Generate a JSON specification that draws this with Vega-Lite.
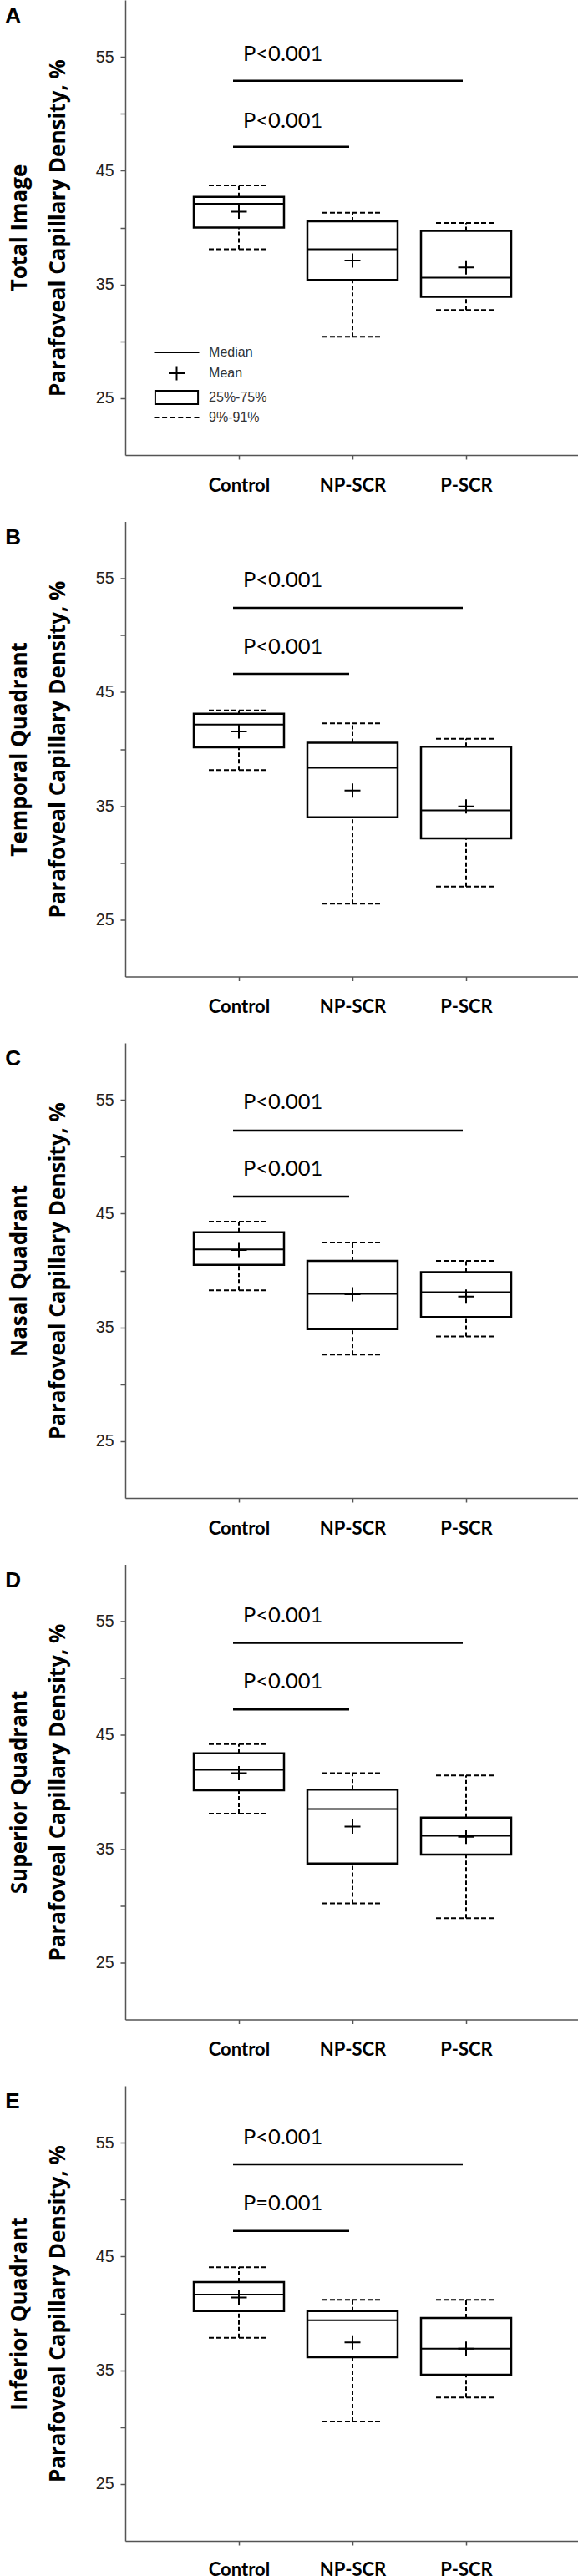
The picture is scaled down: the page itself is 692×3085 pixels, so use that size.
{
  "$schema": "https://vega.github.io/schema/vega-lite/v6.json",
  "padding": {"left": 6, "top": 0, "right": 0, "bottom": 0},
  "background": "white",
  "spacing": 32.5,
  "datasets": {
    "a": [
      {"group": "Control", "p9": 38.1, "q1": 40.0, "median": 42.1, "mean": 41.4, "q3": 42.7, "p91": 43.7},
      {"group": "NP-SCR", "p9": 30.4, "q1": 35.4, "median": 38.1, "mean": 37.1, "q3": 40.55, "p91": 41.3},
      {"group": "P-SCR", "p9": 32.75, "q1": 33.9, "median": 35.6, "mean": 36.5, "q3": 39.7, "p91": 40.4}
    ],
    "b": [
      {"group": "Control", "p9": 38.15, "q1": 40.15, "median": 42.15, "mean": 41.55, "q3": 43.1, "p91": 43.4},
      {"group": "NP-SCR", "p9": 26.4, "q1": 34.0, "median": 38.35, "mean": 36.35, "q3": 40.55, "p91": 42.25},
      {"group": "P-SCR", "p9": 27.9, "q1": 32.15, "median": 34.6, "mean": 34.95, "q3": 40.2, "p91": 40.9}
    ],
    "c": [
      {"group": "Control", "p9": 38.25, "q1": 40.5, "median": 41.85, "mean": 41.8, "q3": 43.35, "p91": 44.3},
      {"group": "NP-SCR", "p9": 32.6, "q1": 34.85, "median": 37.95, "mean": 37.9, "q3": 40.85, "p91": 42.45},
      {"group": "P-SCR", "p9": 34.2, "q1": 35.9, "median": 38.1, "mean": 37.7, "q3": 39.85, "p91": 40.85}
    ],
    "d": [
      {"group": "Control", "p9": 38.1, "q1": 40.15, "median": 41.95, "mean": 41.65, "q3": 43.4, "p91": 44.2},
      {"group": "NP-SCR", "p9": 30.2, "q1": 33.7, "median": 38.5, "mean": 36.95, "q3": 40.2, "p91": 41.65},
      {"group": "P-SCR", "p9": 28.9, "q1": 34.5, "median": 36.15, "mean": 36.05, "q3": 37.75, "p91": 41.45}
    ],
    "e": [
      {"group": "Control", "p9": 37.85, "q1": 40.2, "median": 41.65, "mean": 41.4, "q3": 42.75, "p91": 44.05},
      {"group": "NP-SCR", "p9": 30.5, "q1": 36.15, "median": 39.4, "mean": 37.45, "q3": 40.2, "p91": 41.2},
      {"group": "P-SCR", "p9": 32.6, "q1": 34.6, "median": 36.9, "mean": 36.9, "q3": 39.6, "p91": 41.2}
    ],
    "sa": [
      {"from": "Control", "to": "P-SCR", "y": 52.9, "labelY": 54.65, "label": "P<0.001"},
      {"from": "Control", "to": "NP-SCR", "y": 47.1, "labelY": 48.8, "label": "P<0.001"}
    ],
    "sb": [
      {"from": "Control", "to": "P-SCR", "y": 52.4, "labelY": 54.27, "label": "P<0.001"},
      {"from": "Control", "to": "NP-SCR", "y": 46.6, "labelY": 48.4, "label": "P<0.001"}
    ],
    "sc": [
      {"from": "Control", "to": "P-SCR", "y": 52.3, "labelY": 54.2, "label": "P<0.001"},
      {"from": "Control", "to": "NP-SCR", "y": 46.5, "labelY": 48.3, "label": "P<0.001"}
    ],
    "sd": [
      {"from": "Control", "to": "P-SCR", "y": 53.1, "labelY": 54.9, "label": "P<0.001"},
      {"from": "Control", "to": "NP-SCR", "y": 47.25, "labelY": 49.1, "label": "P<0.001"}
    ],
    "se": [
      {"from": "Control", "to": "P-SCR", "y": 53.1, "labelY": 54.85, "label": "P<0.001"},
      {"from": "Control", "to": "NP-SCR", "y": 47.25, "labelY": 49.1, "label": "P=0.001"}
    ]
  },
  "vconcat": [
    {
      "title": "A",
      "width": 544, "height": 545,
      "data": {"name": "a"},
      "encoding": {"x": {"field": "group", "type": "nominal", "scale": {"type": "point", "padding": 1, "domain": ["Control", "NP-SCR", "P-SCR"]}, "axis": {"title": null, "labelAngle": 0, "tickSize": 5, "labelPadding": 21, "labelFont": "Lato", "labelFontSize": 22, "labelFontWeight": "bold", "labelColor": "black"}}},
      "layer": [
        {"mark": {"type": "rule", "strokeDash": [5, 3], "strokeWidth": 2, "color": "black"},
         "encoding": {"y": {"field": "p9", "type": "quantitative", "scale": {"domain": [20, 60], "nice": false},
           "axis": {"values": [25, 30, 35, 40, 45, 50, 55], "labelExpr": "datum.value % 10 == 5 ? datum.label : ''", "tickSize": 6, "labelPadding": 8, "labelFont": "Liberation Sans", "labelFontSize": 19.5, "labelColor": "#222", "title": ["Total Image", "Parafoveal Capillary Density, %"], "titleFont": "Open Sans", "titleFontSize": 26, "titleFontWeight": "bold", "titleColor": "black", "titleLineHeight": 46, "titlePadding": 32}},
           "y2": {"field": "q1"}}},
        {"mark": {"type": "rule", "strokeDash": [5, 3], "strokeWidth": 2, "color": "black"},
         "encoding": {"y": {"field": "q3", "type": "quantitative", "scale": {"domain": [20, 60], "nice": false}}, "y2": {"field": "p91"}}},
        {"mark": {"type": "rule", "strokeDash": [6, 3], "strokeWidth": 2, "color": "black", "xOffset": -36, "x2Offset": 36},
         "encoding": {"x2": {"field": "group"}, "y": {"field": "p9", "type": "quantitative", "scale": {"domain": [20, 60], "nice": false}}}},
        {"mark": {"type": "rule", "strokeDash": [6, 3], "strokeWidth": 2, "color": "black", "xOffset": -36, "x2Offset": 36},
         "encoding": {"x2": {"field": "group"}, "y": {"field": "p91", "type": "quantitative", "scale": {"domain": [20, 60], "nice": false}}}},
        {"mark": {"type": "bar", "width": 108, "fill": "white", "stroke": "black", "strokeWidth": 2.5},
         "encoding": {"y": {"field": "q1", "type": "quantitative", "scale": {"domain": [20, 60], "nice": false}}, "y2": {"field": "q3"}}},
        {"mark": {"type": "rule", "strokeWidth": 2, "color": "black", "xOffset": -54, "x2Offset": 54},
         "encoding": {"x2": {"field": "group"}, "y": {"field": "median", "type": "quantitative", "scale": {"domain": [20, 60], "nice": false}}}},
        {"mark": {"type": "point", "filled": false, "size": 16, "stroke": "black", "color": "black", "strokeWidth": 2, "opacity": 1},
         "encoding": {"y": {"field": "mean", "type": "quantitative", "scale": {"domain": [20, 60], "nice": false}},
           "shape": {"datum": "Mean", "type": "nominal",
             "scale": {"domain": ["Median", "Mean", "25%-75%", "9%-91%"], "range": ["M-13.5,0H13.5", "M-4.75,0H4.75M0,-4.25V4.25", "M-12.8,-4H12.8V4H-12.8Z", "M-13.5,0H-10.5M-8.7,0H-5.7M-3.9,0H-0.9M0.9,0H3.9M5.7,0H8.7M10.5,0H13.5"]},
             "legend": {"title": null, "orient": "bottom-left", "offset": 37, "padding": 0, "rowPadding": 4, "symbolSize": 16, "symbolStrokeWidth": 2, "symbolStrokeColor": "black", "symbolFillColor": "white", "symbolOpacity": 1, "symbolOffset": 16.5, "labelOffset": 30.6, "labelFont": "Liberation Sans", "labelFontSize": 16, "labelColor": "#333"}}}},
        {"data": {"name": "sa"}, "mark": {"type": "rule", "strokeWidth": 2.5, "color": "black", "xOffset": -7, "x2Offset": -4},
         "encoding": {"x": {"field": "from", "type": "nominal", "scale": {"type": "point", "padding": 1, "domain": ["Control", "NP-SCR", "P-SCR"]}}, "x2": {"field": "to"}, "y": {"field": "y", "type": "quantitative", "scale": {"domain": [20, 60], "nice": false}}}},
        {"data": {"name": "sa"}, "mark": {"type": "text", "align": "left", "baseline": "alphabetic", "dx": 5, "font": "Lato", "fontSize": 25.5, "color": "black"},
         "encoding": {"x": {"field": "from", "type": "nominal", "scale": {"type": "point", "padding": 1, "domain": ["Control", "NP-SCR", "P-SCR"]}}, "y": {"field": "labelY", "type": "quantitative", "scale": {"domain": [20, 60], "nice": false}}, "text": {"field": "label"}}}
      ]
    },
    {
      "title": "B",
      "width": 544, "height": 545,
      "data": {"name": "b"},
      "encoding": {"x": {"field": "group", "type": "nominal", "scale": {"type": "point", "padding": 1, "domain": ["Control", "NP-SCR", "P-SCR"]}, "axis": {"title": null, "labelAngle": 0, "tickSize": 5, "labelPadding": 21, "labelFont": "Lato", "labelFontSize": 22, "labelFontWeight": "bold", "labelColor": "black"}}},
      "layer": [
        {"mark": {"type": "rule", "strokeDash": [5, 3], "strokeWidth": 2, "color": "black"},
         "encoding": {"y": {"field": "p9", "type": "quantitative", "scale": {"domain": [20, 60], "nice": false},
           "axis": {"values": [25, 30, 35, 40, 45, 50, 55], "labelExpr": "datum.value % 10 == 5 ? datum.label : ''", "tickSize": 6, "labelPadding": 8, "labelFont": "Liberation Sans", "labelFontSize": 19.5, "labelColor": "#222", "title": ["Temporal Quadrant", "Parafoveal Capillary Density, %"], "titleFont": "Open Sans", "titleFontSize": 26, "titleFontWeight": "bold", "titleColor": "black", "titleLineHeight": 46, "titlePadding": 32}},
           "y2": {"field": "q1"}}},
        {"mark": {"type": "rule", "strokeDash": [5, 3], "strokeWidth": 2, "color": "black"},
         "encoding": {"y": {"field": "q3", "type": "quantitative", "scale": {"domain": [20, 60], "nice": false}}, "y2": {"field": "p91"}}},
        {"mark": {"type": "rule", "strokeDash": [6, 3], "strokeWidth": 2, "color": "black", "xOffset": -36, "x2Offset": 36},
         "encoding": {"x2": {"field": "group"}, "y": {"field": "p9", "type": "quantitative", "scale": {"domain": [20, 60], "nice": false}}}},
        {"mark": {"type": "rule", "strokeDash": [6, 3], "strokeWidth": 2, "color": "black", "xOffset": -36, "x2Offset": 36},
         "encoding": {"x2": {"field": "group"}, "y": {"field": "p91", "type": "quantitative", "scale": {"domain": [20, 60], "nice": false}}}},
        {"mark": {"type": "bar", "width": 108, "fill": "white", "stroke": "black", "strokeWidth": 2.5},
         "encoding": {"y": {"field": "q1", "type": "quantitative", "scale": {"domain": [20, 60], "nice": false}}, "y2": {"field": "q3"}}},
        {"mark": {"type": "rule", "strokeWidth": 2, "color": "black", "xOffset": -54, "x2Offset": 54},
         "encoding": {"x2": {"field": "group"}, "y": {"field": "median", "type": "quantitative", "scale": {"domain": [20, 60], "nice": false}}}},
        {"mark": {"type": "point", "filled": false, "size": 16, "shape": "M-4.75,0H4.75M0,-4.25V4.25", "stroke": "black", "strokeWidth": 2, "opacity": 1},
         "encoding": {"y": {"field": "mean", "type": "quantitative", "scale": {"domain": [20, 60], "nice": false}}}},
        {"data": {"name": "sb"}, "mark": {"type": "rule", "strokeWidth": 2.5, "color": "black", "xOffset": -7, "x2Offset": -4},
         "encoding": {"x": {"field": "from", "type": "nominal", "scale": {"type": "point", "padding": 1, "domain": ["Control", "NP-SCR", "P-SCR"]}}, "x2": {"field": "to"}, "y": {"field": "y", "type": "quantitative", "scale": {"domain": [20, 60], "nice": false}}}},
        {"data": {"name": "sb"}, "mark": {"type": "text", "align": "left", "baseline": "alphabetic", "dx": 5, "font": "Lato", "fontSize": 25.5, "color": "black"},
         "encoding": {"x": {"field": "from", "type": "nominal", "scale": {"type": "point", "padding": 1, "domain": ["Control", "NP-SCR", "P-SCR"]}}, "y": {"field": "labelY", "type": "quantitative", "scale": {"domain": [20, 60], "nice": false}}, "text": {"field": "label"}}}
      ]
    },
    {
      "title": "C",
      "width": 544, "height": 545,
      "data": {"name": "c"},
      "encoding": {"x": {"field": "group", "type": "nominal", "scale": {"type": "point", "padding": 1, "domain": ["Control", "NP-SCR", "P-SCR"]}, "axis": {"title": null, "labelAngle": 0, "tickSize": 5, "labelPadding": 21, "labelFont": "Lato", "labelFontSize": 22, "labelFontWeight": "bold", "labelColor": "black"}}},
      "layer": [
        {"mark": {"type": "rule", "strokeDash": [5, 3], "strokeWidth": 2, "color": "black"},
         "encoding": {"y": {"field": "p9", "type": "quantitative", "scale": {"domain": [20, 60], "nice": false},
           "axis": {"values": [25, 30, 35, 40, 45, 50, 55], "labelExpr": "datum.value % 10 == 5 ? datum.label : ''", "tickSize": 6, "labelPadding": 8, "labelFont": "Liberation Sans", "labelFontSize": 19.5, "labelColor": "#222", "title": ["Nasal Quadrant", "Parafoveal Capillary Density, %"], "titleFont": "Open Sans", "titleFontSize": 26, "titleFontWeight": "bold", "titleColor": "black", "titleLineHeight": 46, "titlePadding": 32}},
           "y2": {"field": "q1"}}},
        {"mark": {"type": "rule", "strokeDash": [5, 3], "strokeWidth": 2, "color": "black"},
         "encoding": {"y": {"field": "q3", "type": "quantitative", "scale": {"domain": [20, 60], "nice": false}}, "y2": {"field": "p91"}}},
        {"mark": {"type": "rule", "strokeDash": [6, 3], "strokeWidth": 2, "color": "black", "xOffset": -36, "x2Offset": 36},
         "encoding": {"x2": {"field": "group"}, "y": {"field": "p9", "type": "quantitative", "scale": {"domain": [20, 60], "nice": false}}}},
        {"mark": {"type": "rule", "strokeDash": [6, 3], "strokeWidth": 2, "color": "black", "xOffset": -36, "x2Offset": 36},
         "encoding": {"x2": {"field": "group"}, "y": {"field": "p91", "type": "quantitative", "scale": {"domain": [20, 60], "nice": false}}}},
        {"mark": {"type": "bar", "width": 108, "fill": "white", "stroke": "black", "strokeWidth": 2.5},
         "encoding": {"y": {"field": "q1", "type": "quantitative", "scale": {"domain": [20, 60], "nice": false}}, "y2": {"field": "q3"}}},
        {"mark": {"type": "rule", "strokeWidth": 2, "color": "black", "xOffset": -54, "x2Offset": 54},
         "encoding": {"x2": {"field": "group"}, "y": {"field": "median", "type": "quantitative", "scale": {"domain": [20, 60], "nice": false}}}},
        {"mark": {"type": "point", "filled": false, "size": 16, "shape": "M-4.75,0H4.75M0,-4.25V4.25", "stroke": "black", "strokeWidth": 2, "opacity": 1},
         "encoding": {"y": {"field": "mean", "type": "quantitative", "scale": {"domain": [20, 60], "nice": false}}}},
        {"data": {"name": "sc"}, "mark": {"type": "rule", "strokeWidth": 2.5, "color": "black", "xOffset": -7, "x2Offset": -4},
         "encoding": {"x": {"field": "from", "type": "nominal", "scale": {"type": "point", "padding": 1, "domain": ["Control", "NP-SCR", "P-SCR"]}}, "x2": {"field": "to"}, "y": {"field": "y", "type": "quantitative", "scale": {"domain": [20, 60], "nice": false}}}},
        {"data": {"name": "sc"}, "mark": {"type": "text", "align": "left", "baseline": "alphabetic", "dx": 5, "font": "Lato", "fontSize": 25.5, "color": "black"},
         "encoding": {"x": {"field": "from", "type": "nominal", "scale": {"type": "point", "padding": 1, "domain": ["Control", "NP-SCR", "P-SCR"]}}, "y": {"field": "labelY", "type": "quantitative", "scale": {"domain": [20, 60], "nice": false}}, "text": {"field": "label"}}}
      ]
    },
    {
      "title": "D",
      "width": 544, "height": 545,
      "data": {"name": "d"},
      "encoding": {"x": {"field": "group", "type": "nominal", "scale": {"type": "point", "padding": 1, "domain": ["Control", "NP-SCR", "P-SCR"]}, "axis": {"title": null, "labelAngle": 0, "tickSize": 5, "labelPadding": 21, "labelFont": "Lato", "labelFontSize": 22, "labelFontWeight": "bold", "labelColor": "black"}}},
      "layer": [
        {"mark": {"type": "rule", "strokeDash": [5, 3], "strokeWidth": 2, "color": "black"},
         "encoding": {"y": {"field": "p9", "type": "quantitative", "scale": {"domain": [20, 60], "nice": false},
           "axis": {"values": [25, 30, 35, 40, 45, 50, 55], "labelExpr": "datum.value % 10 == 5 ? datum.label : ''", "tickSize": 6, "labelPadding": 8, "labelFont": "Liberation Sans", "labelFontSize": 19.5, "labelColor": "#222", "title": ["Superior Quadrant", "Parafoveal Capillary Density, %"], "titleFont": "Open Sans", "titleFontSize": 26, "titleFontWeight": "bold", "titleColor": "black", "titleLineHeight": 46, "titlePadding": 32}},
           "y2": {"field": "q1"}}},
        {"mark": {"type": "rule", "strokeDash": [5, 3], "strokeWidth": 2, "color": "black"},
         "encoding": {"y": {"field": "q3", "type": "quantitative", "scale": {"domain": [20, 60], "nice": false}}, "y2": {"field": "p91"}}},
        {"mark": {"type": "rule", "strokeDash": [6, 3], "strokeWidth": 2, "color": "black", "xOffset": -36, "x2Offset": 36},
         "encoding": {"x2": {"field": "group"}, "y": {"field": "p9", "type": "quantitative", "scale": {"domain": [20, 60], "nice": false}}}},
        {"mark": {"type": "rule", "strokeDash": [6, 3], "strokeWidth": 2, "color": "black", "xOffset": -36, "x2Offset": 36},
         "encoding": {"x2": {"field": "group"}, "y": {"field": "p91", "type": "quantitative", "scale": {"domain": [20, 60], "nice": false}}}},
        {"mark": {"type": "bar", "width": 108, "fill": "white", "stroke": "black", "strokeWidth": 2.5},
         "encoding": {"y": {"field": "q1", "type": "quantitative", "scale": {"domain": [20, 60], "nice": false}}, "y2": {"field": "q3"}}},
        {"mark": {"type": "rule", "strokeWidth": 2, "color": "black", "xOffset": -54, "x2Offset": 54},
         "encoding": {"x2": {"field": "group"}, "y": {"field": "median", "type": "quantitative", "scale": {"domain": [20, 60], "nice": false}}}},
        {"mark": {"type": "point", "filled": false, "size": 16, "shape": "M-4.75,0H4.75M0,-4.25V4.25", "stroke": "black", "strokeWidth": 2, "opacity": 1},
         "encoding": {"y": {"field": "mean", "type": "quantitative", "scale": {"domain": [20, 60], "nice": false}}}},
        {"data": {"name": "sd"}, "mark": {"type": "rule", "strokeWidth": 2.5, "color": "black", "xOffset": -7, "x2Offset": -4},
         "encoding": {"x": {"field": "from", "type": "nominal", "scale": {"type": "point", "padding": 1, "domain": ["Control", "NP-SCR", "P-SCR"]}}, "x2": {"field": "to"}, "y": {"field": "y", "type": "quantitative", "scale": {"domain": [20, 60], "nice": false}}}},
        {"data": {"name": "sd"}, "mark": {"type": "text", "align": "left", "baseline": "alphabetic", "dx": 5, "font": "Lato", "fontSize": 25.5, "color": "black"},
         "encoding": {"x": {"field": "from", "type": "nominal", "scale": {"type": "point", "padding": 1, "domain": ["Control", "NP-SCR", "P-SCR"]}}, "y": {"field": "labelY", "type": "quantitative", "scale": {"domain": [20, 60], "nice": false}}, "text": {"field": "label"}}}
      ]
    },
    {
      "title": "E",
      "width": 544, "height": 545,
      "data": {"name": "e"},
      "encoding": {"x": {"field": "group", "type": "nominal", "scale": {"type": "point", "padding": 1, "domain": ["Control", "NP-SCR", "P-SCR"]}, "axis": {"title": null, "labelAngle": 0, "tickSize": 5, "labelPadding": 19, "labelFont": "Lato", "labelFontSize": 22, "labelFontWeight": "bold", "labelColor": "black"}}},
      "layer": [
        {"mark": {"type": "rule", "strokeDash": [5, 3], "strokeWidth": 2, "color": "black"},
         "encoding": {"y": {"field": "p9", "type": "quantitative", "scale": {"domain": [20, 60], "nice": false},
           "axis": {"values": [25, 30, 35, 40, 45, 50, 55], "labelExpr": "datum.value % 10 == 5 ? datum.label : ''", "tickSize": 6, "labelPadding": 8, "labelFont": "Liberation Sans", "labelFontSize": 19.5, "labelColor": "#222", "title": ["Inferior Quadrant", "Parafoveal Capillary Density, %"], "titleFont": "Open Sans", "titleFontSize": 26, "titleFontWeight": "bold", "titleColor": "black", "titleLineHeight": 46, "titlePadding": 32}},
           "y2": {"field": "q1"}}},
        {"mark": {"type": "rule", "strokeDash": [5, 3], "strokeWidth": 2, "color": "black"},
         "encoding": {"y": {"field": "q3", "type": "quantitative", "scale": {"domain": [20, 60], "nice": false}}, "y2": {"field": "p91"}}},
        {"mark": {"type": "rule", "strokeDash": [6, 3], "strokeWidth": 2, "color": "black", "xOffset": -36, "x2Offset": 36},
         "encoding": {"x2": {"field": "group"}, "y": {"field": "p9", "type": "quantitative", "scale": {"domain": [20, 60], "nice": false}}}},
        {"mark": {"type": "rule", "strokeDash": [6, 3], "strokeWidth": 2, "color": "black", "xOffset": -36, "x2Offset": 36},
         "encoding": {"x2": {"field": "group"}, "y": {"field": "p91", "type": "quantitative", "scale": {"domain": [20, 60], "nice": false}}}},
        {"mark": {"type": "bar", "width": 108, "fill": "white", "stroke": "black", "strokeWidth": 2.5},
         "encoding": {"y": {"field": "q1", "type": "quantitative", "scale": {"domain": [20, 60], "nice": false}}, "y2": {"field": "q3"}}},
        {"mark": {"type": "rule", "strokeWidth": 2, "color": "black", "xOffset": -54, "x2Offset": 54},
         "encoding": {"x2": {"field": "group"}, "y": {"field": "median", "type": "quantitative", "scale": {"domain": [20, 60], "nice": false}}}},
        {"mark": {"type": "point", "filled": false, "size": 16, "shape": "M-4.75,0H4.75M0,-4.25V4.25", "stroke": "black", "strokeWidth": 2, "opacity": 1},
         "encoding": {"y": {"field": "mean", "type": "quantitative", "scale": {"domain": [20, 60], "nice": false}}}},
        {"data": {"name": "se"}, "mark": {"type": "rule", "strokeWidth": 2.5, "color": "black", "xOffset": -7, "x2Offset": -4},
         "encoding": {"x": {"field": "from", "type": "nominal", "scale": {"type": "point", "padding": 1, "domain": ["Control", "NP-SCR", "P-SCR"]}}, "x2": {"field": "to"}, "y": {"field": "y", "type": "quantitative", "scale": {"domain": [20, 60], "nice": false}}}},
        {"data": {"name": "se"}, "mark": {"type": "text", "align": "left", "baseline": "alphabetic", "dx": 5, "font": "Lato", "fontSize": 25.5, "color": "black"},
         "encoding": {"x": {"field": "from", "type": "nominal", "scale": {"type": "point", "padding": 1, "domain": ["Control", "NP-SCR", "P-SCR"]}}, "y": {"field": "labelY", "type": "quantitative", "scale": {"domain": [20, 60], "nice": false}}, "text": {"field": "label"}}}
      ]
    }
  ],
  "resolve": {"scale": {"shape": "independent"}, "legend": {"shape": "independent"}},
  "config": {
    "view": {"stroke": null},
    "axis": {"grid": false, "domainColor": "#555", "domainWidth": 1.5, "tickColor": "#555", "tickWidth": 1.5},
    "title": {"anchor": "start", "frame": "bounds", "offset": -32, "baseline": "alphabetic", "dx": -4, "font": "Liberation Sans", "fontSize": 26, "fontWeight": "bold", "color": "black"}
  }
}
